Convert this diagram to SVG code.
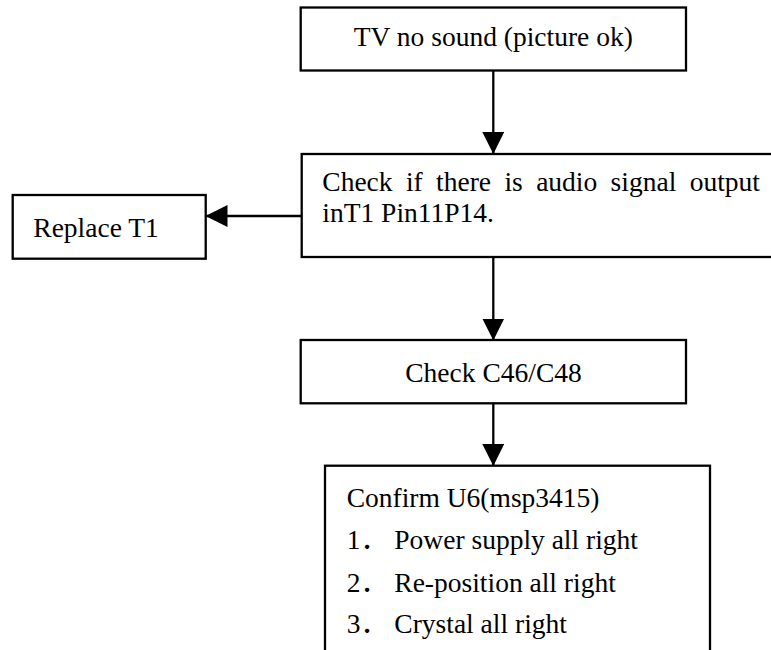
<svg xmlns="http://www.w3.org/2000/svg" width="771" height="650" viewBox="0 0 771 650">
<style>
.box{fill:#fff;stroke:#000;stroke-width:2.3}
.t{font-family:"Liberation Serif","Times New Roman","Noto Sans CJK SC",serif;font-size:27.5px;fill:#000}
.c{text-anchor:middle}
.edge{stroke:#000;stroke-width:2.3;fill:none;marker-end:url(#ah)}
</style>
<defs>
<marker id="ah" markerUnits="userSpaceOnUse" markerWidth="22" markerHeight="22" refX="21" refY="11" orient="auto" viewBox="0 0 22 22">
<path d="M0,0 L22,11 L0,22 Z" fill="#000"/>
</marker>
</defs>
<rect width="771" height="650" fill="#fff"/>
<g id="connectors">
<line class="edge" x1="493.3" y1="70.5" x2="493.3" y2="153"/>
<line class="edge" x1="301.5" y1="216" x2="206.5" y2="216"/>
<line class="edge" x1="493.3" y1="257" x2="493.3" y2="339.5"/>
<line class="edge" x1="493.3" y1="403.3" x2="493.3" y2="465"/>
</g>
<g id="n1">
<rect class="box" x="300.7" y="7.5" width="385.3" height="63"/>
<text class="t c" x="493.3" y="46">TV no sound (picture ok)</text>
</g>
<g id="n2">
<rect class="box" x="301.7" y="154" width="480" height="103"/>
<text class="t" x="322.3" y="190.7" word-spacing="6.5">Check if there is audio signal output</text>
<text class="t" x="322.3" y="221.7">inT1 Pin11P14.</text>
</g>
<g id="n3">
<rect class="box" x="12.7" y="195" width="193" height="63.7"/>
<text class="t" x="33.3" y="236.7">Replace T1</text>
</g>
<g id="n4">
<rect class="box" x="300.7" y="340" width="385.3" height="63.3"/>
<text class="t c" x="493.5" y="381.7">Check C46/C48</text>
</g>
<g id="n5">
<rect class="box" x="325" y="465.7" width="385" height="200"/>
<text class="t" x="346.7" y="507.3">Confirm U6(msp3415)</text>
<text class="t" x="346.7" y="549.3">1．<tspan x="394.3">Power supply all right</tspan></text>
<text class="t" x="346.7" y="591.7">2．<tspan x="394.3">Re-position all right</tspan></text>
<text class="t" x="346.7" y="632.7">3．<tspan x="394.3">Crystal all right</tspan></text>
</g>
</svg>
